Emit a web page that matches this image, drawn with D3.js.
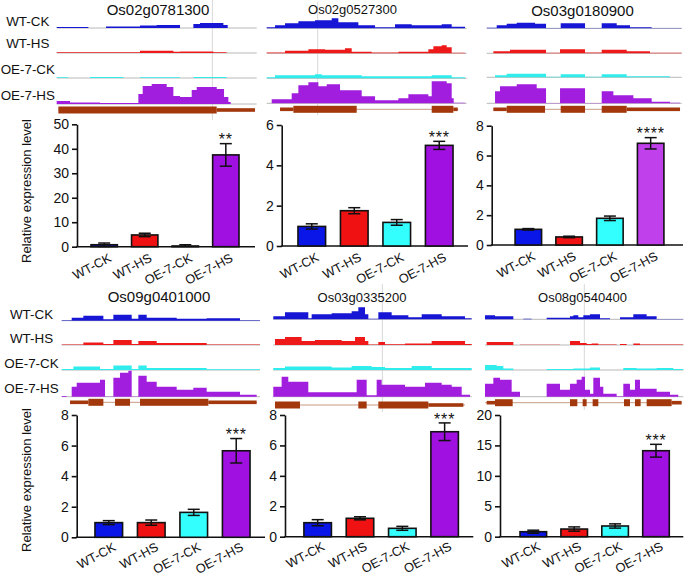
<!DOCTYPE html>
<html><head><meta charset="utf-8">
<script src="https://cdn.jsdelivr.net/npm/d3@7"></script>
<style>body{margin:0;background:#fff} svg{display:block;font-family:Arial,"Liberation Sans",sans-serif}</style>
</head><body><svg id="c" width="685" height="577"></svg>
<script>
// ---------------- DATA ----------------
const samples = ["WT-CK", "WT-HS", "OE-7-CK", "OE-7-HS"];
const genes = ["Os02g0781300", "Os02g0527300", "Os03g0180900", "Os09g0401000", "Os03g0335200", "Os08g0540400"];
// relative expression (mean) per gene, order = samples
const meanOs02g0781300 = [0.8, 4.8, 0.3, 37.5];
const meanOs02g0527300 = [0.97, 1.75, 1.17, 4.99];
const meanOs03g0180900 = [1.05, 0.54, 1.79, 6.82];
const meanOs09g0401000 = [0.96, 0.96, 1.63, 5.66];
const meanOs03g0335200 = [0.92, 1.21, 0.55, 6.9];
const meanOs08g0540400 = [0.82, 1.26, 1.76, 14.13];
const errOs02g0781300 = [0.7, 0.7, 0.5, 4.6];
const errOs02g0527300 = [0.13, 0.15, 0.14, 0.2];
const errOs03g0180900 = [0.05, 0.05, 0.15, 0.38];
const errOs09g0401000 = [0.13, 0.17, 0.2, 0.8];
const errOs03g0335200 = [0.2, 0.1, 0.13, 0.58];
const errOs08g0540400 = [0.25, 0.35, 0.35, 1.05];
const significance = ["**", "***", "****", "***", "***", "***"];
const yMaxTicks = [50, 6, 8, 8, 8, 20];
const yTickStep = [10, 2, 2, 2, 2, 5];

// genomic window (arbitrary position units) per gene
const windows = [[170, 770], [5, 605], [50, 635], [185, 780], [25, 620], [45, 640]];

// read coverage segments [start, end, depth] per sample (WT-CK, WT-HS, OE-7-CK, OE-7-HS)
const covOs02g0781300 = [
  [[170,265,1],[318,420,1.5],[420,470,2.5],[470,540,3],[580,600,4],[600,670,5],[670,683,3]],
  [[170,420,0.8],[420,520,2.2],[520,540,1.2],[540,640,1.6],[640,680,0.8]],
  [[170,205,0.8],[270,370,0.9],[420,540,0.7],[580,680,1]],
  [[170,210,3],[210,300,1.5],[300,415,1],[415,428,10],[428,455,18],[455,500,20],[500,520,17],[520,540,8],[540,575,7],[575,590,14],[590,650,17],[650,672,15],[672,685,7],[685,692,2]]
];
const covOs02g0527300 = [
  [[5,30,1],[30,60,3],[60,100,5],[100,150,7],[150,200,8],[200,220,10],[220,280,6],[280,330,3],[330,390,1],[390,440,4],[440,530,3],[530,560,4],[560,600,1.5]],
  [[5,60,0.7],[60,130,2.5],[130,180,4],[180,240,3.5],[240,260,5],[260,320,1.5],[320,400,0.8],[400,490,1.5],[490,505,4],[505,530,7],[530,545,8],[545,560,6],[560,600,0.5]],
  [[5,30,1],[30,150,3],[150,170,4],[170,290,3],[290,500,2],[500,560,3],[560,600,1]],
  [[20,80,4],[80,100,10],[100,130,18],[130,160,21],[160,185,17],[185,225,19],[225,290,13],[290,330,7],[330,400,3],[400,430,5],[430,490,9],[490,500,7],[500,545,22],[545,560,20],[560,566,5],[566,600,0.5]]
];
const covOs03g0180900 = [
  [[50,80,0.5],[80,110,3],[110,140,4.5],[140,195,5.5],[195,228,4.5],[228,272,0.3],[272,345,5],[345,395,0.3],[395,440,5],[440,480,3],[480,545,1],[545,635,0.3]],
  [[70,120,2],[120,228,3.5],[228,270,0.5],[270,345,4],[345,395,0.8],[395,470,3.5],[470,540,2],[540,635,0.5]],
  [[75,110,2],[110,228,3.5],[228,272,0.5],[272,345,3],[345,395,0.5],[395,470,3],[470,600,1]],
  [[75,90,12],[90,140,17],[140,200,19],[200,228,15],[228,270,0.4],[270,345,15],[345,395,0.4],[395,430,12],[430,490,8],[490,545,5],[545,600,1.5],[600,630,0.5]]
];
const covOs09g0401000 = [
  [[185,215,0.5],[215,250,3],[250,310,5],[310,340,1.5],[340,395,6],[395,415,2],[415,440,6],[440,530,3],[530,620,2],[620,720,2.5],[720,780,0.5]],
  [[185,250,0.5],[250,310,2.5],[310,340,1],[340,395,5],[395,415,1],[415,470,4],[470,620,2],[620,780,0.5]],
  [[185,220,1],[220,300,3.5],[300,340,1],[340,395,4.5],[395,415,1],[415,440,4.5],[440,620,2],[620,780,0.8]],
  [[185,200,0.8],[215,230,10],[230,300,14],[300,315,17],[315,340,0.3],[340,360,19],[360,385,24],[385,395,26],[395,415,0.3],[415,440,21],[440,470,15],[470,530,10],[530,580,7],[580,620,9],[620,720,5],[720,770,2]]
];
const covOs03g0335200 = [
  [[25,60,3],[60,130,7],[130,140,1],[140,200,5],[200,260,6],[260,280,8],[280,300,12],[300,310,5],[310,340,0.5],[340,380,7],[380,430,4],[430,470,2],[470,530,5],[530,600,3],[600,620,1]],
  [[30,60,6],[60,110,8],[110,150,4],[150,230,5],[230,270,4],[270,300,8],[300,310,4],[310,340,0.5],[340,360,3],[360,420,0.8],[420,500,1.5],[500,600,4],[600,620,1]],
  [[25,60,2],[60,200,3.5],[200,260,2.5],[260,320,4],[320,360,3],[360,440,2],[440,500,4],[500,620,2]],
  [[25,50,10],[50,70,20],[70,130,15],[130,275,4.5],[275,305,17],[305,335,1.5],[335,350,17],[350,420,12],[420,480,10],[480,530,14],[530,560,12],[560,590,10],[590,615,2]]
];
const covOs08g0540400 = [
  [[45,75,4],[75,130,3],[160,185,0.5],[230,300,1.5],[300,310,3],[310,325,4],[325,340,2],[340,360,4],[360,390,5],[390,420,1],[450,490,2],[490,530,5],[530,560,3],[560,640,0.3]],
  [[50,130,3],[150,270,0.3],[300,330,4],[330,350,2],[350,365,1],[365,385,1.5],[385,440,0.5],[450,470,1],[490,510,1.5],[510,640,0.5]],
  [[45,80,5],[80,100,4],[100,130,1.5],[230,310,1],[310,360,1.5],[360,390,2.5],[460,500,2],[500,560,1.5],[560,610,2],[610,640,1]],
  [[45,70,13],[70,90,19],[90,125,17],[125,150,5],[230,270,13],[270,300,7],[300,320,13],[320,335,17],[335,345,20],[345,360,7],[360,370,3],[370,390,19],[390,400,10],[400,440,3],[440,460,0.5],[460,480,13],[480,495,7],[495,510,17],[510,560,8],[560,600,5],[600,625,2]]
];
// gene models: intron line extent and exon blocks [start,end,type] (c = CDS, u = UTR)
const geneSpans = [[175,765],[45,580],[70,630],[210,770],[30,600],[45,635]];
const exonsOs02g0781300 = [[175,650,"c"],[650,765,"u"]];
const exonsOs02g0527300 = [[45,85,"u"],[85,275,"c"],[500,565,"c"],[565,578,"u"]];
const exonsOs03g0180900 = [[70,110,"u"],[110,225,"c"],[272,345,"c"],[395,470,"c"],[470,630,"u"]];
const exonsOs09g0401000 = [[210,265,"u"],[265,310,"c"],[345,390,"c"],[420,625,"c"],[625,770,"u"]];
const exonsOs03g0335200 = [[30,105,"c"],[280,305,"c"],[340,490,"c"],[490,595,"u"]];
const exonsOs08g0540400 = [[50,75,"u"],[75,128,"c"],[300,322,"c"],[338,350,"c"],[368,385,"c"],[462,480,"c"],[495,512,"c"],[530,605,"c"],[605,635,"u"]];
// cursor line position in window (null = none)
const cursorPos = [637, 158, null, null, 352, 343];

const means = [meanOs02g0781300, meanOs02g0527300, meanOs03g0180900, meanOs09g0401000, meanOs03g0335200, meanOs08g0540400];
const errs = [errOs02g0781300, errOs02g0527300, errOs03g0180900, errOs09g0401000, errOs03g0335200, errOs08g0540400];
const covs = [covOs02g0781300, covOs02g0527300, covOs03g0180900, covOs09g0401000, covOs03g0335200, covOs08g0540400];
const exons = [exonsOs02g0781300, exonsOs02g0527300, exonsOs03g0180900, exonsOs09g0401000, exonsOs03g0335200, exonsOs08g0540400];

// ---------------- STYLE / LAYOUT ----------------
const trackColors = ["#1616d4", "#ee1a1a", "#30ecec", "#a21ede"];
const barColors = ["#0a16e8", "#f01212", "#34ffff", "#a010e0"];
const altHSColor = "#c040ec";
const layout = [
  {tx:[56.7,256.7], base:[28,53,78,104], gy:110, title:[158,15,15], vl:[0,120], ax:77, axEnd:255, y0:246.7, yT:124.3, band:[76.8,253.2], lab:14},
  {tx:[266.7,466.7], base:[28.3,53.3,78.3,103.3], gy:109.3, title:[352.5,13.8,13], vl:[2,115], ax:281.7, axEnd:468, y0:246, yT:125, band:[283.1,467.9], lab:14},
  {tx:[486.7,681.7], base:[28.3,53.3,77.3,103.3], gy:109.3, title:[582.5,15.5,15], vl:null, ax:491.7, axEnd:683, y0:245, yT:125.7, band:[500.8,678.2], lab:14},
  {tx:[61.7,260], base:[320.7,345,370,396.7], gy:402.3, title:[159,302.4,15], vl:null, ax:76.7, axEnd:265, y0:537.3, yT:415, band:[80.1,264.9], lab:12.5},
  {tx:[273.3,471.7], base:[319.3,345,370,396.7], gy:405, title:[362,302,13], vl:[284,412], ax:285, axEnd:473.3, y0:536.7, yT:415, band:[289.1,473.2], lab:12.5},
  {tx:[485,683.3], base:[319.3,345,370,396.7], gy:402.7, title:[582.5,302,13], vl:[284,410], ax:500, axEnd:683.3, y0:536.7, yT:415, band:[505.7,683.6], lab:12.5}
];
const rowLabels = [{x:27.8, y:[26,47.5,74,100]}, {x:31.5, y:[319,343,368,393]}];
const yLabelPos = [[31,191],[31,480]];

const svg = d3.select("#c");
const ink = "#111";

// row labels
rowLabels.forEach(r => {
  samples.forEach((s,i) => svg.append("text").attr("x", r.x).attr("y", r.y[i])
    .attr("text-anchor","middle").attr("font-size",13.4).attr("fill",ink).text(s));
});
yLabelPos.forEach(([x,y]) => svg.append("text").attr("transform",`translate(${x},${y}) rotate(-90)`)
  .attr("text-anchor","middle").attr("font-size",13).attr("fill",ink).text("Relative expression level"));

const depth = d3.scaleLinear().domain([0, 30]).range([0, 30]);

genes.forEach((g, gi) => {
  const L = layout[gi];
  const gG = svg.append("g");
  const xs = d3.scaleLinear().domain(windows[gi]).range(L.tx);

  // cursor line
  if (cursorPos[gi] !== null) {
    gG.append("line").attr("x1", xs(cursorPos[gi])).attr("x2", xs(cursorPos[gi]))
      .attr("y1", L.vl[0]).attr("y2", L.vl[1]).attr("stroke", "#d8d8d8").attr("stroke-width", 1);
  }
  // title
  gG.append("text").attr("x", L.title[0]).attr("y", L.title[1]).attr("text-anchor","middle")
    .attr("font-size", L.title[2]).attr("fill", ink).text(g);

  // coverage tracks
  covs[gi].forEach((segs, si) => {
    const b = L.base[si];
    gG.append("line").attr("x1", L.tx[0]).attr("x2", L.tx[1]).attr("y1", b).attr("y2", b)
      .attr("stroke", "#b8b8b8").attr("stroke-width", 1);
    const pts = [];
    segs.forEach(([a, e, v]) => { pts.push([a,0],[a,v],[e,v],[e,0]); });
    const area = d3.area().x(d => xs(d[0])).y0(b).y1(d => b - depth(d[1]));
    gG.append("path").attr("d", area(pts)).attr("fill", trackColors[si]);
  });

  // gene model
  const sp = geneSpans[gi];
  gG.append("line").attr("x1", xs(sp[0])).attr("x2", xs(sp[1])).attr("y1", L.gy).attr("y2", L.gy)
    .attr("stroke", "#c89a80").attr("stroke-width", 1);
  gG.selectAll("rect.ex").data(exons[gi]).join("rect").attr("class","ex")
    .attr("x", d => xs(d[0])).attr("width", d => xs(d[1]) - xs(d[0]))
    .attr("y", d => L.gy - (d[2] === "c" ? 3.5 : 1.8))
    .attr("height", d => d[2] === "c" ? 7 : 3.6)
    .attr("fill", "#a2380c");

  // bar chart
  const y = d3.scaleLinear().domain([0, yMaxTicks[gi]]).range([L.y0, L.yT]);
  const x = d3.scaleBand().domain(samples).range(L.band).paddingInner(0.35).paddingOuter(0.35);
  const ticks = d3.range(0, yMaxTicks[gi] + 1e-9, yTickStep[gi]);
  const axis = gG.append("g").attr("transform", `translate(${L.ax},0)`)
    .call(d3.axisLeft(y).tickValues(ticks).tickSize(5).tickSizeOuter(0).tickPadding(3).tickFormat(d3.format("d")));
  axis.select(".domain").attr("stroke", ink).attr("stroke-width", 1.6);
  axis.selectAll(".tick line").attr("stroke", ink).attr("stroke-width", 1.6);
  axis.selectAll(".tick text").attr("font-size", 14).attr("fill", ink).attr("font-family", "Arial, 'Liberation Sans', sans-serif");
  gG.append("line").attr("x1", L.ax - 0.8).attr("x2", L.axEnd).attr("y1", L.y0).attr("y2", L.y0)
    .attr("stroke", ink).attr("stroke-width", 1.6);

  const data = samples.map((s, i) => ({s, m: means[gi][i], e: errs[gi][i], i}));
  gG.selectAll("rect.bar").data(data).join("rect").attr("class","bar")
    .attr("x", d => x(d.s)).attr("width", x.bandwidth())
    .attr("y", d => y(d.m)).attr("height", d => y(0) - y(d.m))
    .attr("fill", d => (gi === 2 && d.i === 3) ? altHSColor : barColors[d.i])
    .attr("stroke", ink).attr("stroke-width", 1.6);
  const cw = 6;
  data.forEach(d => {
    const cx = x(d.s) + x.bandwidth() / 2;
    const lo = Math.max(0, d.m - d.e), hi = d.m + d.e;
    gG.append("line").attr("x1", cx).attr("x2", cx).attr("y1", y(lo)).attr("y2", y(hi)).attr("stroke", ink).attr("stroke-width", 1.5);
    gG.append("line").attr("x1", cx - cw).attr("x2", cx + cw).attr("y1", y(hi)).attr("y2", y(hi)).attr("stroke", ink).attr("stroke-width", 1.5);
    if (d.m - d.e > 0) gG.append("line").attr("x1", cx - cw).attr("x2", cx + cw).attr("y1", y(lo)).attr("y2", y(lo)).attr("stroke", ink).attr("stroke-width", 1.5);
    gG.append("text").attr("transform", `translate(${cx + 8},${L.y0 + L.lab}) rotate(-28)`)
      .attr("text-anchor","end").attr("font-size", 12.8).attr("fill", ink).text(d.s);
    if (d.i === 3) {
      gG.append("text").attr("x", cx).attr("y", y(hi) + 1.6).attr("text-anchor","middle")
        .attr("font-size", 16).attr("letter-spacing", 0.8).attr("fill", ink).text(significance[gi]);
    }
  });
});
</script></body></html>
